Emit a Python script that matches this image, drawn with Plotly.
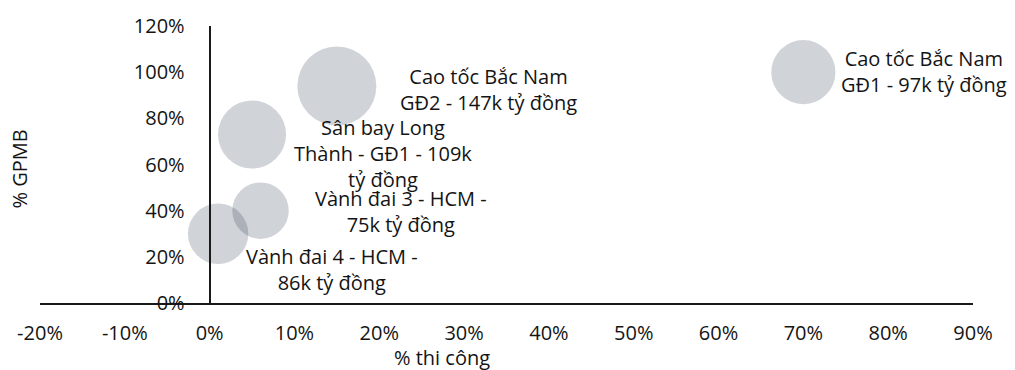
import plotly.graph_objects as go

# Tiến độ các dự án hạ tầng trọng điểm
du_an = [
    "Cao tốc Bắc Nam GĐ1",
    "Cao tốc Bắc Nam GĐ2",
    "Sân bay Long Thành - GĐ1",
    "Vành đai 3 - HCM",
    "Vành đai 4 - HCM",
]
thi_cong = [0.70, 0.15, 0.05, 0.06, 0.01]   # % thi công
gpmb = [1.00, 0.94, 0.73, 0.40, 0.30]       # % GPMB
von = [97, 147, 109, 75, 86]                # k tỷ đồng

nhan = [
    "Cao tốc Bắc Nam<br>GĐ1 - {v}k tỷ đồng",
    "Cao tốc Bắc Nam<br>GĐ2 - {v}k tỷ đồng",
    "Sân bay Long<br>Thành - GĐ1 - {v}k<br>tỷ đồng",
    "Vành đai 3 - HCM -<br>{v}k tỷ đồng",
    "Vành đai 4 - HCM -<br>{v}k tỷ đồng",
]
# label offsets from bubble centre (px)
nhan_dx = [121, 152, 131, 140, 114]
nhan_dy = [1, -3, -19, -1, -36]

x_ticks = [-0.2, -0.1, 0.0, 0.1, 0.2, 0.3, 0.4, 0.5, 0.6, 0.7, 0.8, 0.9]
y_ticks = [0.0, 0.2, 0.4, 0.6, 0.8, 1.0, 1.2]


def pct(v):
    return f"{round(v * 100)}%"


FONT = "Open Sans"
FS = 20
INK = "#141414"

max_d = 79
fig = go.Figure(
    go.Scatter(
        x=thi_cong,
        y=gpmb,
        mode="markers",
        text=du_an,
        marker=dict(
            size=von,
            sizemode="area",
            sizeref=2.0 * max(von) / max_d ** 2,
            color="rgba(32,45,72,0.30)",
            line=dict(width=0),
        ),
        hoverinfo="text",
        showlegend=False,
    )
)

for xi, yi, v, t, dx, dy in zip(thi_cong, gpmb, von, nhan, nhan_dx, nhan_dy):
    fig.add_annotation(
        x=xi, y=yi, xref="x", yref="y",
        text=t.format(v=v),
        showarrow=False,
        xanchor="center", yanchor="middle", align="center",
        xshift=dx, yshift=dy,
        font=dict(family=FONT, size=FS, color=INK),
    )

xmin, xmax = -0.2, 0.9
fig.update_layout(
    width=1015,
    height=370,
    margin=dict(l=40, r=42, t=21, b=67),
    paper_bgcolor="white",
    plot_bgcolor="white",
    font=dict(family=FONT, size=FS, color=INK),
    xaxis=dict(
        range=[xmin, xmax],
        tickvals=x_ticks,
        ticktext=[pct(v) for v in x_ticks],
        showgrid=False,
        zeroline=False,
        showline=True,
        linecolor="#1a1a1a",
        linewidth=2,
        ticks="",
        ticklabelstandoff=11,
        fixedrange=True,
    ),
    yaxis=dict(
        range=[0, 1.2],
        tickvals=y_ticks,
        ticktext=[pct(v) for v in y_ticks],
        showgrid=False,
        zeroline=False,
        showline=True,
        linecolor="#1a1a1a",
        linewidth=2,
        ticks="",
        anchor="free",
        position=(0 - xmin) / (xmax - xmin),
        ticklabelstandoff=20,
        fixedrange=True,
    ),
)

# axis titles
fig.add_annotation(
    x=0.431, y=-0.197, xref="paper", yref="paper", xanchor="center", yanchor="middle",
    text="% thi công", showarrow=False, font=dict(family=FONT, size=FS, color=INK),
)
fig.add_annotation(
    x=-0.0225, y=0.482, xref="paper", yref="paper", xanchor="center", yanchor="middle",
    text="% GPMB", textangle=-90, showarrow=False, font=dict(family=FONT, size=FS, color=INK),
)

fig.write_html("out.html")
